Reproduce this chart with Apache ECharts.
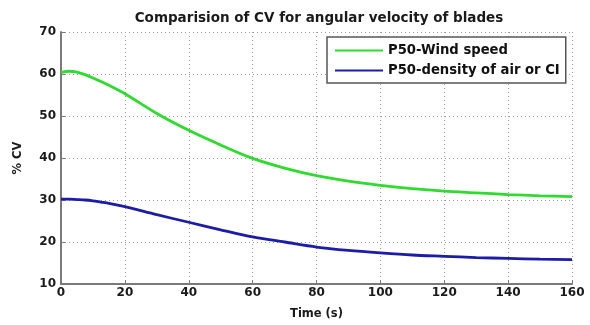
<!DOCTYPE html>
<html>
<head>
<meta charset="utf-8">
<script src="https://cdn.jsdelivr.net/npm/echarts@6/dist/echarts.min.js"></script>
<style>html,body{margin:0;padding:0;background:#fff}#c{width:590px;height:325px}</style>
</head>
<body>
<div id="c"></div>
<script>
const titleText = "Comparision of CV for angular velocity of blades";
const xName = "Time (s)";
const yName = "% CV";
const seriesNames = ["P50-Wind speed", "P50-density of air or CI"];
const time = [0, 2.5, 5, 7.5, 10, 12.5, 15, 20, 30, 40, 50, 60, 70, 80, 90, 100, 110, 120, 130, 140, 150, 160];
const windSpeed = [60.4, 60.65, 60.45, 59.85, 59.05, 58.2, 57.3, 55.3, 50.6, 46.6, 43.1, 39.9, 37.6, 35.8, 34.5, 33.5, 32.7, 32.1, 31.7, 31.3, 31.0, 30.8];
const airDensity = [30.2, 30.2, 30.1, 30.0, 29.8, 29.5, 29.2, 28.4, 26.5, 24.7, 22.9, 21.2, 20.0, 18.8, 18.0, 17.4, 16.9, 16.6, 16.3, 16.1, 15.9, 15.8];

const font = "'DejaVu Sans', sans-serif";
const chart = echarts.init(document.getElementById('c'), null, {renderer: 'canvas'});
const pairs = arr => time.map((t, i) => [t, arr[i]]);
const gridLine = {show: true, lineStyle: {color: '#9a9a9a', type: [1, 3], width: 1}};
chart.setOption({
  animation: false,
  backgroundColor: '#ffffff',
  title: {
    text: titleText, left: 314, top: 6, textAlign: 'center',
    textStyle: {fontFamily: font, fontSize: 13.5, fontWeight: 'bold', color: '#1a1a1a'}
  },
  grid: {left: 61, right: 18, top: 32, bottom: 36},
  legend: {
    orient: 'vertical', left: 327, top: 37,
    backgroundColor: '#ffffff', borderColor: '#555', borderWidth: 1.5,
    padding: [6, 6, 5, 8], itemGap: 5,
    icon: 'rect', itemWidth: 48, itemHeight: 2,
    textStyle: {fontFamily: font, fontSize: 13.2, fontWeight: 'bold', color: '#111', lineHeight: 15},
    data: seriesNames
  },
  xAxis: {
    type: 'value', min: 0, max: 160, interval: 20,
    name: xName, nameLocation: 'middle', nameGap: 24,
    nameTextStyle: {fontFamily: font, fontSize: 11.5, fontWeight: 'bold', color: '#1a1a1a'},
    axisLine: {show: true, lineStyle: {color: '#7a7a7a', width: 2}},
    axisTick: {show: true, inside: true, length: 4, lineStyle: {color: '#7a7a7a'}},
    axisLabel: {fontFamily: font, fontSize: 12, fontWeight: 'bold', color: '#1a1a1a', margin: 3},
    splitLine: gridLine
  },
  yAxis: {
    type: 'value', min: 10, max: 70, interval: 10,
    name: yName, nameLocation: 'middle', nameGap: 37, nameRotate: 90,
    nameTextStyle: {fontFamily: font, fontSize: 11.5, fontWeight: 'bold', color: '#1a1a1a'},
    axisLine: {show: true, lineStyle: {color: '#7a7a7a', width: 2}},
    axisTick: {show: true, inside: true, length: 4, lineStyle: {color: '#7a7a7a'}},
    axisLabel: {fontFamily: font, fontSize: 12, fontWeight: 'bold', color: '#1a1a1a', margin: 5},
    splitLine: gridLine
  },
  series: [
    {name: seriesNames[0], type: 'line', smooth: 0.3, showSymbol: false,
     data: pairs(windSpeed), lineStyle: {color: '#2edb2e', width: 2.8}, itemStyle: {color: '#2edb2e'}},
    {name: seriesNames[1], type: 'line', smooth: 0.3, showSymbol: false,
     data: pairs(airDensity), lineStyle: {color: '#1c1ca8', width: 2.8}, itemStyle: {color: '#1c1ca8'}}
  ]
});
</script>
</body>
</html>
